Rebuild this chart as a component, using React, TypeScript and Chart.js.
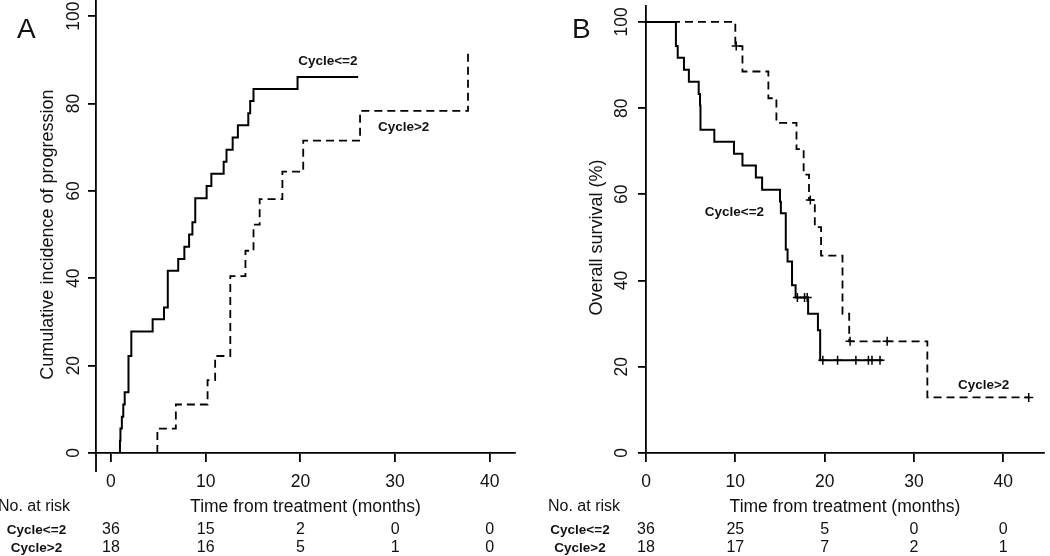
import { useEffect, useRef } from 'react';
import { Chart, registerables } from 'chart.js';

Chart.register(...registerables);

const FONT = '"Liberation Sans", Arial, Helvetica, sans-serif';

// axes
const xTicks = [0, 10, 20, 30, 40];
const yTicks = [0, 20, 40, 60, 80, 100];
const groups = ['Cycle<=2', 'Cycle>2'];
const xTitle = 'Time from treatment (months)';

// A - cumulative incidence of progression (months, %)
const incLowTime = [0.95, 0.95, 1.0, 1.15, 1.3, 1.45, 1.85, 2.15, 4.4, 5.6, 6.0, 7.1, 7.75, 8.25, 8.6, 8.9, 10.1, 10.6, 11.9, 12.2, 12.85, 13.4, 14.5, 14.7, 15.05, 19.7, 26.1];
const incLowValue = [0, 2.8, 5.6, 8.3, 11.1, 13.9, 22.2, 27.8, 30.6, 33.3, 41.7, 44.4, 47.2, 50.0, 52.8, 58.3, 61.1, 63.9, 66.7, 69.4, 72.2, 75.0, 77.8, 80.6, 83.3, 86.1, 86.1];
const incHighTime = [4.9, 4.9, 6.85, 10.2, 11.0, 12.6, 14.2, 15.05, 15.7, 18.1, 20.3, 26.3, 37.7];
const incHighValue = [0, 5.6, 11.1, 16.7, 22.2, 40.5, 46.3, 52.3, 58.1, 64.4, 71.5, 78.3, 91.7];
const riskLowA = [36, 15, 2, 0, 0];
const riskHighA = [18, 16, 5, 1, 0];

// B - overall survival (months, %)
const osLowTime = [0, 3.35, 3.55, 4.25, 4.8, 5.9, 6.05, 6.1, 7.65, 9.85, 10.8, 12.3, 13.0, 15.0, 15.1, 15.65, 15.85, 16.35, 16.75, 18.15, 19.25, 19.5, 26.5];
const osLowValue = [100, 94.4, 91.7, 88.9, 86.1, 83.3, 80.6, 75.0, 72.2, 69.4, 66.7, 63.9, 61.1, 58.3, 55.6, 47.2, 44.4, 38.9, 36.1, 32.3, 28.5, 21.5, 21.5];
const osLowCensor = [16.95, 17.75, 18.05, 19.8, 21.45, 23.5, 24.9, 25.3, 26.2];
const osHighTime = [0, 10.0, 10.8, 13.7, 14.6, 16.85, 17.65, 18.25, 18.9, 19.6, 22.0, 22.75, 31.5, 42.85];
const osHighValue = [100, 94.4, 88.5, 82.3, 76.6, 70.5, 64.6, 58.7, 52.4, 45.8, 32.3, 25.9, 12.9, 12.9];
const osHighCensor = [10.1, 18.4, 22.85, 27.0, 42.85];
const riskLowB = [36, 25, 5, 0, 0];
const riskHighB = [18, 17, 7, 2, 1];

const stepAt = (ts: number[], vs: number[], t: number) => {
  let v = vs[0];
  ts.forEach((ti, i) => { if (ti <= t) v = vs[i]; });
  return v;
};

const curve = (ts: number[], vs: number[], dashed: boolean) => ({
  data: ts.map((t, i) => ({ x: t, y: vs[i] })),
  borderColor: '#000',
  borderWidth: dashed ? 1.8 : 2,
  borderDash: dashed ? [8, 5] : [],
  stepped: 'before' as const,
  pointRadius: 0,
  fill: false,
});

const marks = (cens: number[], ts: number[], vs: number[]) => ({
  data: cens.map((t) => ({ x: t, y: stepAt(ts, vs, t) })),
  showLine: false,
  borderColor: '#000',
  backgroundColor: '#000',
  pointStyle: 'cross' as const,
  pointRadius: 4.5,
  pointBorderWidth: 1.5,
});

const panelText = {
  id: 'panelText',
  afterDraw(chart: any, _args: any, o: any) {
    const { ctx, chartArea, scales } = chart;
    const x = scales.x;
    const y = scales.y;
    ctx.save();
    ctx.fillStyle = '#111';
    ctx.strokeStyle = '#000';
    if (o.yExtend) {
      ctx.lineWidth = 1.8;
      ctx.beginPath();
      ctx.moveTo(chartArea.left, chartArea.bottom);
      ctx.lineTo(chartArea.left, chartArea.bottom + o.yExtend);
      ctx.stroke();
    }
    ctx.textAlign = 'center';
    ctx.textBaseline = 'middle';
    ctx.font = `17.5px ${FONT}`;
    yTicks.forEach((v) => {
      ctx.save();
      ctx.translate(o.yLabelX, y.getPixelForValue(v));
      ctx.rotate(-Math.PI / 2);
      ctx.fillText(String(v), 0, 0);
      ctx.restore();
    });
    ctx.save();
    ctx.translate(o.yTitleX, y.getPixelForValue(50));
    ctx.rotate(-Math.PI / 2);
    ctx.font = `18px ${FONT}`;
    ctx.fillText(o.yTitle, 0, 0);
    ctx.restore();

    ctx.font = `17.5px ${FONT}`;
    ctx.fillText(xTitle, (chartArea.left + chartArea.right) / 2, 507);

    ctx.font = `bold 13.5px ${FONT}`;
    o.labels.forEach((l: any) => {
      ctx.fillText(l.text, x.getPixelForValue(l.t), y.getPixelForValue(l.v));
    });

    // number at risk table
    ctx.font = `16px ${FONT}`;
    ctx.textAlign = 'left';
    ctx.fillText('No. at risk', o.riskX, 507);
    ctx.textAlign = 'center';
    o.risk.forEach((row: number[], r: number) => {
      const ry = 530 + r * 18;
      ctx.font = `bold 13.5px ${FONT}`;
      ctx.fillText(groups[r], o.rowLabelX, ry);
      ctx.font = `16px ${FONT}`;
      row.forEach((n, i) => ctx.fillText(String(n), x.getPixelForValue(xTicks[i]), ry));
    });

    ctx.font = `28px ${FONT}`;
    ctx.textAlign = 'left';
    ctx.textBaseline = 'alphabetic';
    ctx.fillText(o.letter, o.letterX, 38);
    ctx.restore();
  },
};

type PanelProps = {
  left: number;
  datasets: any[];
  xMin: number;
  xMax: number;
  axisLeft: number;
  padRight: number;
  text: any;
};

function Panel({ left, datasets, xMin, xMax, axisLeft, padRight, text }: PanelProps) {
  const ref = useRef<HTMLCanvasElement>(null);
  useEffect(() => {
    if (!ref.current) return;
    const axisGrid = {
      display: true,
      drawOnChartArea: false,
      drawTicks: true,
      color: '#000',
      lineWidth: 1.8,
    };
    const chart = new Chart(ref.current, {
      type: 'line',
      data: { datasets },
      plugins: [panelText],
      options: {
        animation: false,
        responsive: false,
        layout: { padding: { left: 0, right: padRight, top: 0, bottom: 0 } },
        plugins: {
          legend: { display: false },
          tooltip: { enabled: false },
          panelText: text,
        } as any,
        scales: {
          x: {
            type: 'linear',
            min: xMin,
            max: xMax,
            afterBuildTicks: (s: any) => { s.ticks = xTicks.map((v) => ({ value: v })); },
            afterFit: (s: any) => { s.height = 103; },
            grid: { ...axisGrid, tickLength: 9 },
            border: { display: true, color: '#000', width: 1.8 },
            ticks: { color: '#111', font: { family: FONT, size: 17.5 }, padding: 10, maxRotation: 0 },
          },
          y: {
            type: 'linear',
            min: 0,
            max: 103.7,
            afterBuildTicks: (s: any) => { s.ticks = yTicks.map((v) => ({ value: v })); },
            afterFit: (s: any) => { s.width = axisLeft; },
            grid: { ...axisGrid, tickLength: 8 },
            border: { display: true, color: '#000', width: 1.8 },
            ticks: { display: false },
          },
        },
      },
    });
    return () => chart.destroy();
  }, []);
  return (
    <canvas
      ref={ref}
      width={525}
      height={556}
      style={{ position: 'absolute', left, top: 0, width: 525, height: 556 }}
    />
  );
}

export default function App() {
  const dataA = [
    curve(incLowTime, incLowValue, false),
    curve(incHighTime, incHighValue, true),
  ];
  const dataB = [
    curve(osLowTime, osLowValue, false),
    marks(osLowCensor, osLowTime, osLowValue),
    marks(osHighCensor, osHighTime, osHighValue),
    curve(osHighTime, osHighValue, true),
  ];
  return (
    <div style={{ position: 'absolute', left: 0, top: 0, width: 1050, height: 556, background: '#fff', overflow: 'hidden' }}>
      <Panel
        left={0}
        datasets={dataA}
        xMin={-1.58}
        xMax={42.66}
        axisLeft={96}
        padRight={10}
        text={{
          letter: 'A',
          letterX: 17,
          yTitle: 'Cumulative incidence of progression',
          yTitleX: 48,
          yLabelX: 74,
          yExtend: 19,
          riskX: -2,
          rowLabelX: 36.5,
          risk: [riskLowA, riskHighA],
          labels: [
            { text: groups[0], t: 22.9, v: 89.7 },
            { text: groups[1], t: 30.9, v: 74.6 },
          ],
        }}
      />
      <Panel
        left={525}
        datasets={dataB}
        xMin={0}
        xMax={44.56}
        axisLeft={121}
        padRight={3}
        text={{
          letter: 'B',
          letterX: 47,
          yTitle: 'Overall survival (%)',
          yTitleX: 72,
          yLabelX: 97,
          yExtend: 0,
          riskX: 23,
          rowLabelX: 55,
          risk: [riskLowB, riskHighB],
          labels: [
            { text: groups[0], t: 9.9, v: 55.8 },
            { text: groups[1], t: 37.8, v: 15.6 },
          ],
        }}
      />
    </div>
  );
}
